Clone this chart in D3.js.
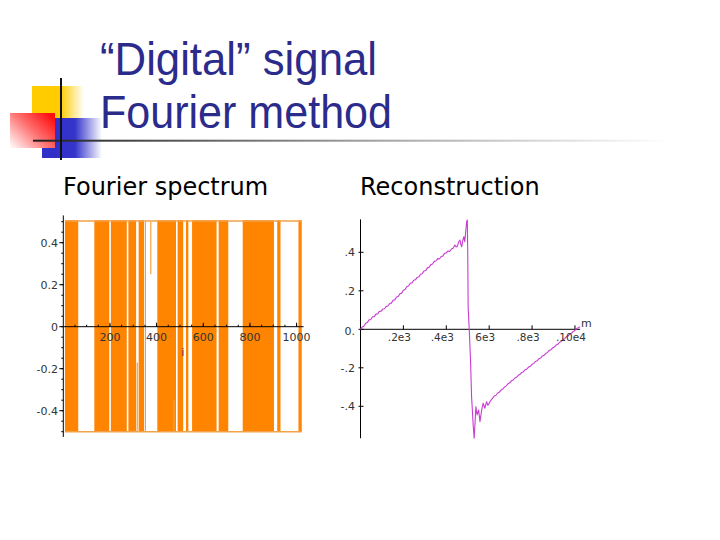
<!DOCTYPE html>
<html>
<head>
<meta charset="utf-8">
<script src="https://cdn.jsdelivr.net/npm/d3@7/dist/d3.min.js"></script>
<style>
  html, body { margin: 0; padding: 0; background: #fff; }
  svg { display: block; }
</style>
</head>
<body>
<svg id="slide" width="720" height="540"></svg>
<script>
// ---------- DATA ----------
const titleLines = ["\u201CDigital\u201D signal", "Fourier method"];
const panelTitles = ["Fourier spectrum", "Reconstruction"];

// Fourier spectrum: index ranges (i) where the coefficients toggle densely between +0.5 and -0.5
const specBands = [[7,64],[133,197],[204,272],[279,312],[323,346],[403,483],[490,514],
                   [526,536],[552,657],[666,707],[769,903],[917,931],[1008,1022]];
// isolated coefficient strokes: [i, from, to]
const specSpikes = [[317,-0.5,-0.17],[352,-0.5,0.5],[375,0.5,0.25],[474,-0.5,-0.35]];
const specAmp = 0.5;
const specXTicks = [200,400,600,800,1000];
const specXLabels = ["200","400","600","800","1000"];
const specYTicks = [0.4,0.2,0,-0.2,-0.4];
const specYLabels = ["0.4","0.2","0","-0.2","-0.4"];
const specXLabel = "i";

// Reconstruction: [m, value]
const recon = [
 [0,0.000],[8,0.012],[16,0.016],[24,0.031],[32,0.035],[40,0.049],[48,0.051],[56,0.065],[64,0.066],
 [72,0.079],[80,0.080],[88,0.093],[96,0.094],[104,0.105],[112,0.107],[120,0.119],[128,0.121],
 [136,0.134],[144,0.136],[152,0.151],[160,0.153],[168,0.168],[176,0.170],[184,0.185],[192,0.188],
 [200,0.203],[208,0.207],[216,0.222],[224,0.225],[232,0.239],[240,0.241],[248,0.255],[256,0.257],
 [264,0.270],[272,0.272],[280,0.286],[288,0.289],[296,0.303],[304,0.305],[312,0.319],[320,0.322],
 [328,0.336],[336,0.339],[344,0.353],[352,0.355],[360,0.367],[368,0.365],[376,0.378],[384,0.380],
 [392,0.395],[400,0.397],[408,0.407],[416,0.404],[424,0.417],[432,0.421],[440,0.438],[446,0.428],
 [452,0.432],[458,0.455],[464,0.464],[468,0.440],[472,0.429],[477,0.462],[482,0.481],[486,0.455],
 [490,0.500],[495,0.559],[498,0.568],[500,0.400],[502,0.117],[507,0.000],[513,-0.160],[518,-0.350],
 [526,-0.506],[530,-0.566],[534,-0.488],[538,-0.402],[544,-0.445],[551,-0.419],[557,-0.480],
 [565,-0.419],[572,-0.384],[580,-0.410],[588,-0.376],[594,-0.395],[600,-0.384],[608,-0.369],
 [616,-0.358],[624,-0.347],[632,-0.342],[640,-0.331],[648,-0.326],[656,-0.315],[664,-0.310],
 [672,-0.299],[680,-0.294],[688,-0.283],[696,-0.278],[704,-0.267],[712,-0.263],[720,-0.253],
 [728,-0.249],[736,-0.239],[744,-0.234],[752,-0.224],[760,-0.220],[768,-0.210],[776,-0.206],
 [784,-0.196],[792,-0.192],[800,-0.182],[808,-0.177],[816,-0.167],[824,-0.163],[832,-0.153],
 [840,-0.149],[848,-0.139],[856,-0.135],[864,-0.125],[872,-0.120],[880,-0.110],[888,-0.106],
 [896,-0.096],[904,-0.092],[912,-0.082],[920,-0.078],[928,-0.068],[936,-0.063],[944,-0.053],
 [952,-0.049],[960,-0.039],[968,-0.035],[976,-0.025],[984,-0.021],[992,-0.011],[1000,-0.006],
 [1008,0.004],[1016,0.008],[1024,0.014]
];
const reconXTicks = [200,400,600,800,1000];
const reconXLabels = [".2e3",".4e3","6e3",".8e3",".10e4"];
const reconYTicks = [0.4,0.2,0,-0.2,-0.4];
const reconYLabels = [".4",".2","0.","-.2","-.4"];
const reconXLabel = "m";

// ---------- DRAW ----------
const svg = d3.select("#slide");
const defs = svg.append("defs");

function lin(id, x1, y1, x2, y2, stops) {
  const g = defs.append("linearGradient").attr("id", id)
    .attr("x1", x1).attr("y1", y1).attr("x2", x2).attr("y2", y2);
  stops.forEach(s => g.append("stop").attr("offset", s[0]).attr("stop-color", s[1]).attr("stop-opacity", s[2]));
}
lin("gYel", 0, 0, 1, 0, [[0, "#FFCC00", 1], [0.55, "#FFCC00", 1], [1, "#FFCC00", 0]]);
lin("gBlu", 0, 0, 1, 0, [[0, "#2E2EC8", 1], [0.55, "#3535CC", 1], [1, "#3535CC", 0]]);
lin("gRed", 1, 0.2, 0, 1, [[0, "#FF1010", 1], [0.45, "#FF7070", 1], [1, "#FFFFFF", 1]]);
lin("gLine", 0, 0, 1, 0, [[0, "#202020", 1], [0.5, "#9a9a9a", 1], [1, "#ffffff", 1]]);

// decorative squares
const deco = svg.append("g");
deco.append("rect").attr("x", 32).attr("y", 86).attr("width", 52).attr("height", 34).attr("fill", "url(#gYel)");
deco.append("rect").attr("x", 42).attr("y", 118).attr("width", 60).attr("height", 40).attr("fill", "url(#gBlu)");
deco.append("rect").attr("x", 10).attr("y", 113).attr("width", 45).attr("height", 35).attr("fill", "url(#gRed)");
deco.append("rect").attr("x", 33).attr("y", 139.7).attr("width", 635).attr("height", 2).attr("fill", "url(#gLine)");
deco.append("rect").attr("x", 60).attr("y", 78).attr("width", 2).attr("height", 82).attr("fill", "#111");

// title
svg.append("g").selectAll("text").data(titleLines).join("text")
  .attr("x", 100).attr("y", (d, i) => i === 0 ? 75 : 128)
  .attr("textLength", (d, i) => i === 0 ? 277 : 292)
  .attr("lengthAdjust", "spacingAndGlyphs")
  .style("font-family", "'Liberation Sans', Arial, sans-serif")
  .style("font-size", "47px").attr("fill", "#2B2B8C").text(d => d);

// panel titles
svg.append("g").selectAll("text").data(panelTitles).join("text")
  .attr("x", (d, i) => i === 0 ? 63 : 360).attr("y", 195)
  .style("font-family", "'DejaVu Sans', Verdana, sans-serif")
  .style("font-size", "24px").attr("fill", "#000").text(d => d);

const tickFont = "'DejaVu Sans', Verdana, sans-serif";

// ---------- LEFT: spectrum ----------
const xL = d3.scaleLinear().domain([0, 1024]).range([63.3, 302.2]);
const yL = d3.scaleLinear().domain([-0.5, 0.5]).range([431.7, 221.7]);
const gL = svg.append("g");

gL.selectAll("rect.band").data(specBands).join("rect").attr("class", "band")
  .attr("x", d => xL(d[0])).attr("width", d => xL(d[1]) - xL(d[0]))
  .attr("y", yL(specAmp) - 1.5).attr("height", yL(-specAmp) - yL(specAmp) + 1.5)
  .attr("fill", "#FF8400");
// constant runs at +/- amplitude
[specAmp, -specAmp].forEach(v => {
  gL.append("line").attr("x1", xL(7)).attr("x2", xL(1022))
    .attr("y1", yL(v) + (v > 0 ? -0.8 : 0)).attr("y2", yL(v) + (v > 0 ? -0.8 : 0))
    .attr("stroke", "#F2A24A").attr("stroke-width", 1.5);
});
gL.selectAll("line.spike").data(specSpikes).join("line").attr("class", "spike")
  .attr("x1", d => xL(d[0])).attr("x2", d => xL(d[0]))
  .attr("y1", d => yL(d[1])).attr("y2", d => yL(d[2]))
  .attr("stroke", "#F5A040").attr("stroke-width", 1.2);

// axes
gL.append("line").attr("x1", xL(0)).attr("x2", xL(0)).attr("y1", yL(0.53)).attr("y2", yL(-0.525))
  .attr("stroke", "#000").attr("stroke-width", 1);
gL.append("line").attr("x1", xL(0)).attr("x2", xL(1030)).attr("y1", yL(0)).attr("y2", yL(0))
  .attr("stroke", "#000").attr("stroke-width", 1);
const minorY = d3.range(-10, 11).map(k => k * 0.05);
gL.selectAll("line.my").data(minorY).join("line").attr("class", "my")
  .attr("x1", xL(0) - 2).attr("x2", xL(0)).attr("y1", d => yL(d)).attr("y2", d => yL(d))
  .attr("stroke", "#000");
gL.selectAll("line.My").data(specYTicks).join("line").attr("class", "My")
  .attr("x1", xL(0) - 4).attr("x2", xL(0)).attr("y1", d => yL(d)).attr("y2", d => yL(d))
  .attr("stroke", "#000");
const minorX = d3.range(1, 21).map(k => k * 50);
gL.selectAll("line.mx").data(minorX).join("line").attr("class", "mx")
  .attr("x1", d => xL(d)).attr("x2", d => xL(d)).attr("y1", yL(0)).attr("y2", yL(0) - 2)
  .attr("stroke", "#000");
gL.selectAll("line.Mx").data(specXTicks).join("line").attr("class", "Mx")
  .attr("x1", d => xL(d)).attr("x2", d => xL(d)).attr("y1", yL(0)).attr("y2", yL(0) - 4)
  .attr("stroke", "#000");
gL.selectAll("text.yl").data(specYTicks).join("text").attr("class", "yl")
  .attr("x", 58).attr("y", d => yL(d) + 4).attr("text-anchor", "end")
  .style("font-family", tickFont).style("font-size", "11px").attr("fill", "#333")
  .text((d, i) => specYLabels[i]);
gL.selectAll("text.xl").data(specXTicks).join("text").attr("class", "xl")
  .attr("x", d => xL(d)).attr("y", yL(0) + 14).attr("text-anchor", "middle")
  .style("font-family", tickFont).style("font-size", "11px").attr("fill", "#333")
  .text((d, i) => specXLabels[i]);
gL.append("text").attr("x", xL(512)).attr("y", 356).attr("text-anchor", "middle")
  .style("font-family", tickFont).style("font-size", "11px").attr("fill", "#333").text(specXLabel);

// ---------- RIGHT: reconstruction ----------
const xR = d3.scaleLinear().domain([0, 1024]).range([360.5, 580.1]);
const yR = d3.scaleLinear().domain([-0.5, 0.5]).range([425.55, 233.05]);
const gR = svg.append("g");

gR.append("line").attr("x1", xR(0)).attr("x2", xR(0)).attr("y1", yR(0.571)).attr("y2", yR(-0.566))
  .attr("stroke", "#000");
gR.append("line").attr("x1", xR(0)).attr("x2", xR(1024)).attr("y1", yR(0)).attr("y2", yR(0))
  .attr("stroke", "#000");
gR.selectAll("line.My").data(reconYTicks).join("line").attr("class", "My")
  .attr("x1", xR(0) - 2).attr("x2", xR(0) + 3).attr("y1", d => yR(d)).attr("y2", d => yR(d))
  .attr("stroke", "#000");
gR.selectAll("line.Mx").data(reconXTicks).join("line").attr("class", "Mx")
  .attr("x1", d => xR(d)).attr("x2", d => xR(d)).attr("y1", yR(0)).attr("y2", yR(0) - 4)
  .attr("stroke", "#000");

const line = d3.line().x(d => xR(d[0])).y(d => yR(d[1]));
gR.append("path").datum(recon).attr("d", line)
  .attr("fill", "none").attr("stroke", "#C83CD2").attr("stroke-width", 1.1)
  .attr("stroke-linejoin", "round");

gR.selectAll("text.yl").data(reconYTicks).join("text").attr("class", "yl")
  .attr("x", 355).attr("y", d => yR(d) + (d === 0 ? 6 : 4)).attr("text-anchor", "end")
  .style("font-family", tickFont).style("font-size", "11px").attr("fill", "#333")
  .text((d, i) => reconYLabels[i]);
gR.selectAll("text.xl").data(reconXTicks).join("text").attr("class", "xl")
  .attr("x", d => xR(d) - 4).attr("y", yR(0) + 12).attr("text-anchor", "middle")
  .style("font-family", tickFont).style("font-size", "10.5px").attr("fill", "#333")
  .text((d, i) => reconXLabels[i]);
gR.append("text").attr("x", xR(1024) + 1).attr("y", yR(0) - 2)
  .style("font-family", tickFont).style("font-size", "11px").attr("fill", "#333").text(reconXLabel);
</script>
</body>
</html>
